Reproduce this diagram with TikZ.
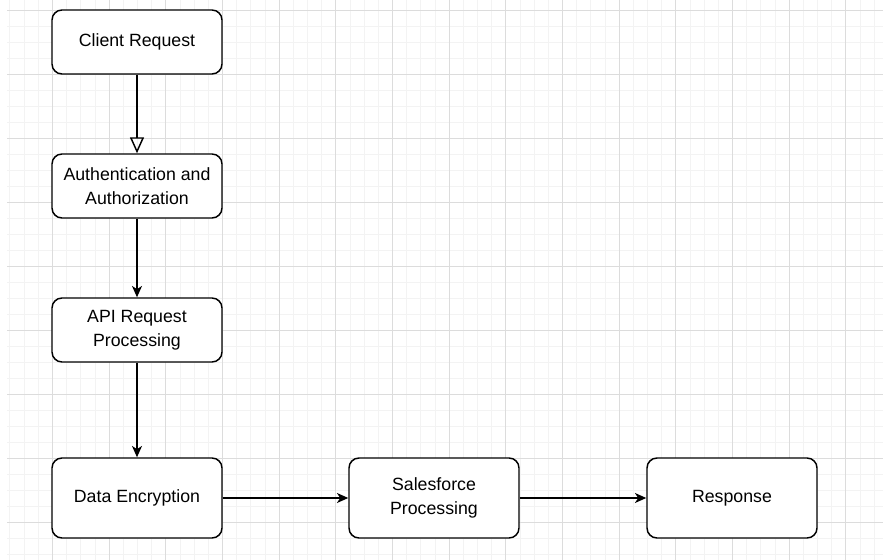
\documentclass[tikz,border=0pt]{standalone}
\usepackage{fontspec}
\setmainfont{Liberation Sans}
\usetikzlibrary{arrows.meta}
\definecolor{gridmajor}{HTML}{DCDCDC}
\definecolor{gridminor}{HTML}{F3F3F3}
\tikzset{
  box/.style={draw=black, fill=white, rounded corners=7.5pt, line width=1.1pt,
    minimum width=127.5pt, minimum height=48pt, align=center, inner sep=2pt,
    font=\fontsize{13.3}{18}\selectfont},
  tallbox/.style={box, minimum height=60pt},
  arr/.style={draw=black, line width=1.1pt, -{Stealth[length=8.5pt,width=7.5pt,inset=2.5pt]}},
  openarr/.style={draw=black, line width=1.1pt, -{Triangle[open,length=12pt,width=10.5pt,line width=1.1pt]}},
  minorline/.style={draw=gridminor, line width=0.75pt},
  majorline/.style={draw=gridmajor, line width=0.75pt}
}
\begin{document}
\begin{tikzpicture}[x=0.75pt,y=-0.75pt]
\useasboundingbox (0,0) rectangle (883,560);
\fill[white] (0,0) rectangle (883,560);
% grid
\foreach \k in {-3,...,58} {
  \pgfmathsetmacro\xx{round(52+14.16667*\k)+0.5}
  \draw[minorline] (\xx,0) -- (\xx,560);
}
\foreach \k in {0,...,34} {
  \pgfmathsetmacro\yy{10.5+16*\k}
  \draw[minorline] (7,\yy) -- (883,\yy);
}
\foreach \m in {0,...,14} {
  \pgfmathsetmacro\xx{round(52+56.66667*\m)+0.5}
  \draw[majorline] (\xx,0) -- (\xx,560);
}
\foreach \m in {0,...,8} {
  \pgfmathsetmacro\yy{10.5+64*\m}
  \draw[majorline] (7,\yy) -- (883,\yy);
}
% nodes
\node[box] (client) at (137,42) {Client Request};
\node[box] (auth) at (137,186) {Authentication and\\Authorization};
\node[box] (api) at (137,330) {API Request\\Processing};
\node[tallbox] (enc) at (137,498) {Data Encryption};
\node[tallbox] (sf) at (434,498) {Salesforce\\Processing};
\node[tallbox] (resp) at (732,498) {Response};
% connectors
\draw[openarr] (client) -- (auth);
\draw[arr] (auth) -- (api);
\draw[arr] (api) -- (enc);
\draw[arr] (enc) -- (sf);
\draw[arr] (sf) -- (resp);
\end{tikzpicture}
\end{document}
